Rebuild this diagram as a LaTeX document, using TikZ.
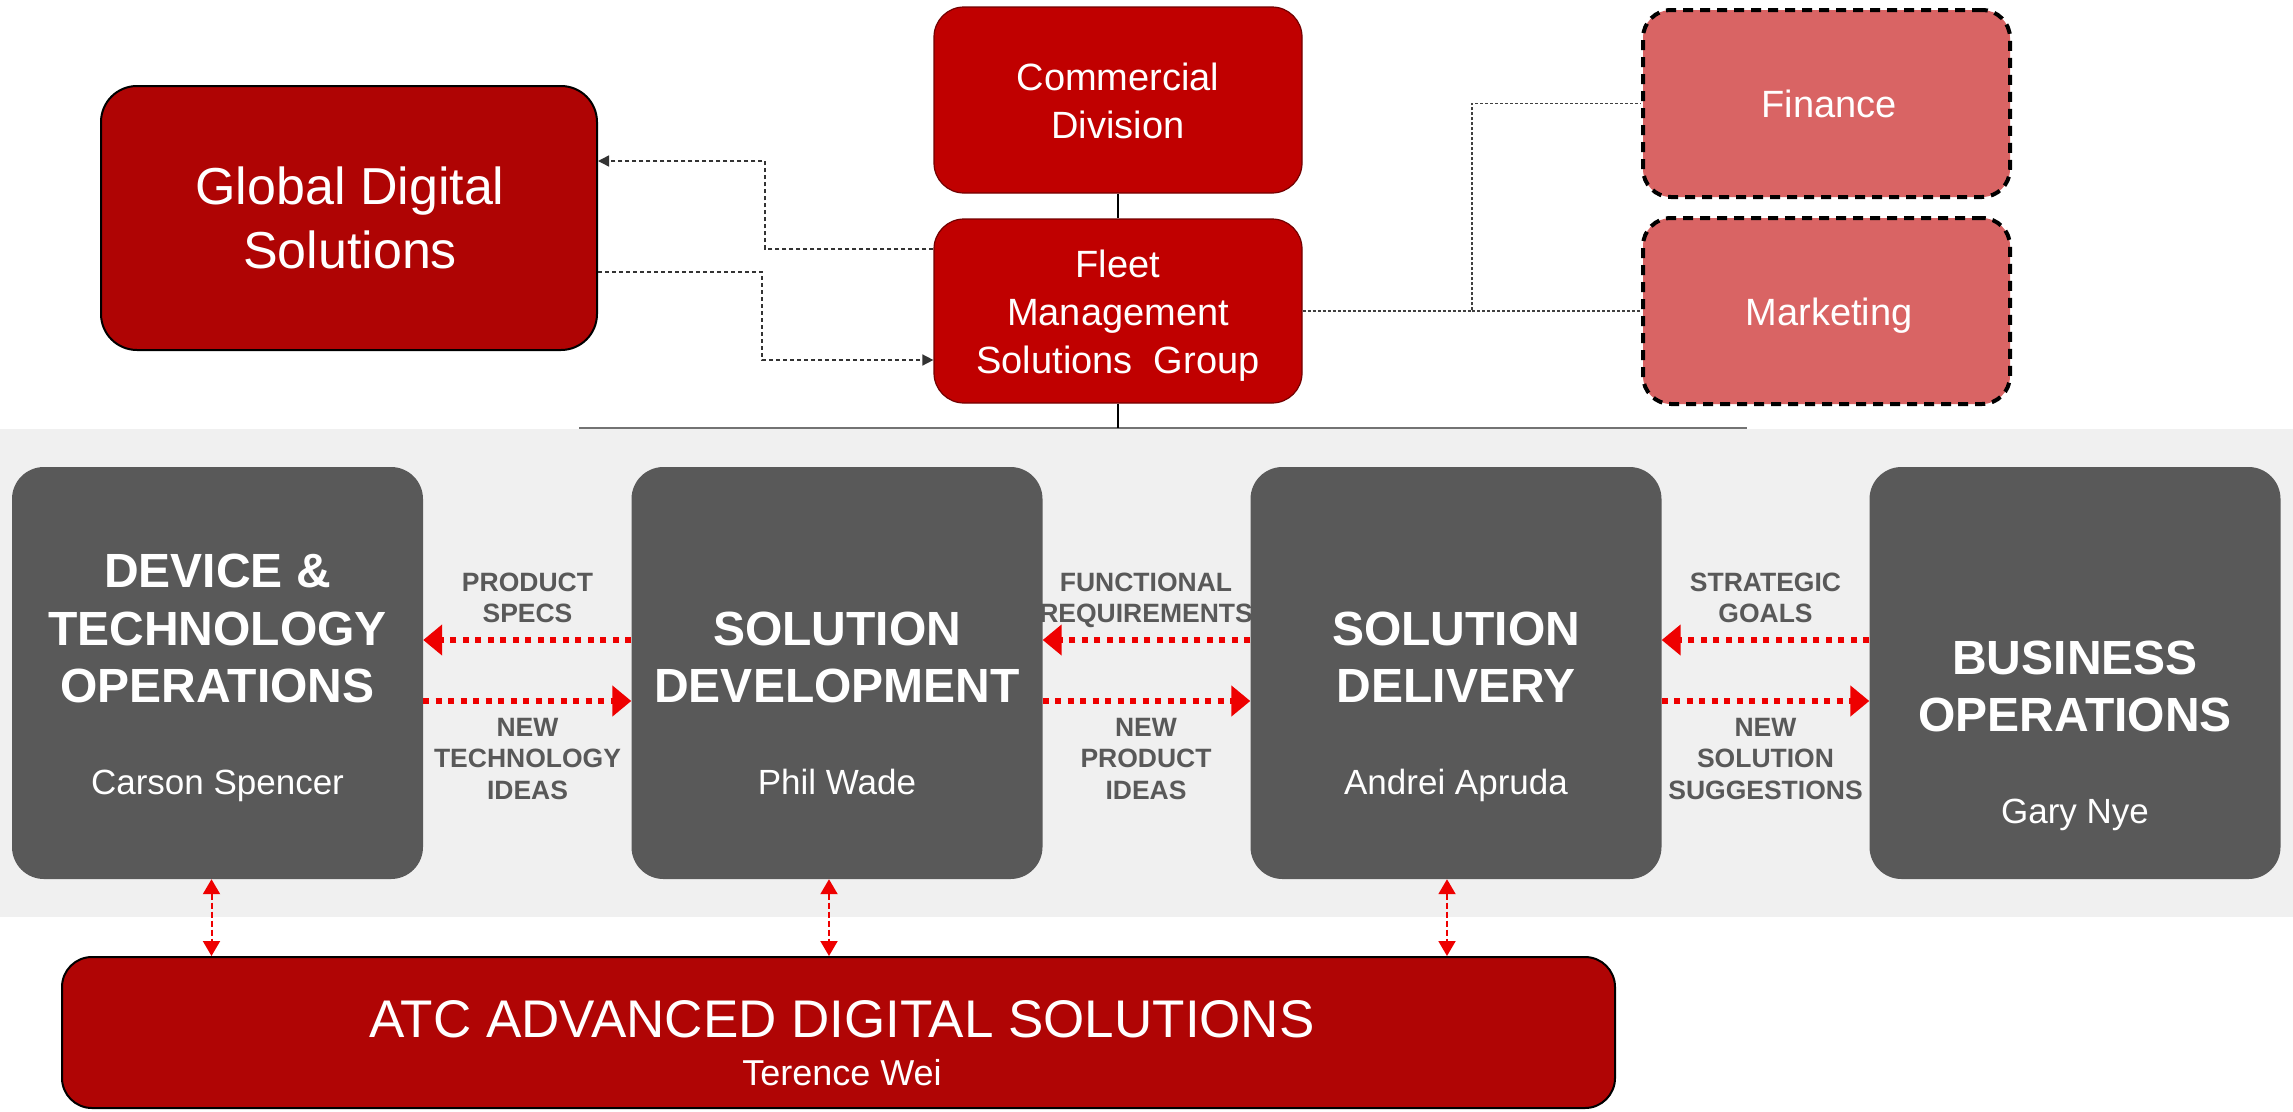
\documentclass[tikz,border=0pt]{standalone}
\usepackage{fontspec}
\setmainfont{Liberation Sans}
\usetikzlibrary{arrows.meta}
\definecolor{darkbox}{HTML}{595959}
\definecolor{redA}{HTML}{C00000}
\definecolor{redB}{HTML}{AF0404}
\definecolor{redC}{HTML}{B00505}
\definecolor{pinkbox}{HTML}{D96464}
\definecolor{bandgray}{HTML}{F0F0F0}
\definecolor{arrowred}{HTML}{EE0000}
\definecolor{labelgray}{HTML}{595959}
\newcommand{\fsz}[1]{\fontsize{#1}{#1}\selectfont}
\tikzset{
  redbox/.style={rectangle, rounded corners=30pt, fill=redA, draw=red!45!black, line width=1.2pt, inner sep=0pt},
  pinkstyle/.style={rectangle, rounded corners=28pt, fill=pinkbox, draw=black, line width=4pt, dash pattern=on 10pt off 7pt, inner sep=0pt, minimum width=367pt, minimum height=187pt},
  darkstyle/.style={rectangle, rounded corners=32pt, fill=darkbox, inner sep=0pt, minimum width=411pt, minimum height=412pt},
  txt/.style={anchor=base, inner sep=0pt, text=white},
  titletxt/.style={txt, font=\bfseries\fsz{48}},
  persontxt/.style={txt, font=\fsz{35}},
  toptxt/.style={txt, font=\fsz{38}},
  lbl/.style={anchor=base, inner sep=0pt, text=labelgray, font=\bfseries\fsz{26.5}},
  flow/.style={draw=arrowred, line width=6pt, dash pattern=on 6pt off 6.5pt, -{Triangle[length=19pt,width=30pt]}},
  vlink/.style={draw=arrowred, line width=2pt, dash pattern=on 6pt off 3pt, {Triangle[length=15pt,width=17pt]}-{Triangle[length=15pt,width=17pt]}},
  dlink/.style={draw=black!80, line width=1.5pt, dash pattern=on 4pt off 3pt},
  flink/.style={draw=black!75, line width=1.5pt, dash pattern=on 3pt off 2pt},
}
\begin{document}
\begin{tikzpicture}[x=1pt,y=-1pt]
\useasboundingbox (0,0) rectangle (2293,1111);
\fill[white] (0,0) rectangle (2293,1111);
% band
\fill[bandgray] (0,429) rectangle (2293,917);
\coordinate (hl) at (0,428);
\draw[black!55, line width=2pt] (579,428) -- (1747,428);

% top boxes
\node[redbox, fill=redB, draw=black, line width=2pt, rounded corners=36pt, minimum width=496pt, minimum height=264pt] (global) at (349,218) {};
\node[redbox, minimum width=368pt, minimum height=186pt] (comm) at (1118,100) {};
\node[redbox, minimum width=368pt, minimum height=184pt] (fleet) at (1118,311) {};
\node[pinkstyle] (fin) at (1826.5,103.5) {};
\node[pinkstyle, minimum height=186pt] (mkt) at (1826.5,311) {};

\node[txt, font=\fsz{52}] (g1) at (350,204) {Global Digital};
\node[txt, font=\fsz{52}] (g2) at (350,268) {Solutions};
\node[toptxt] (c1) at (1118,90) {Commercial};
\node[toptxt] (c2) at (1118,138) {Division};
\node[toptxt] (f1) at (1118,277) {Fleet};
\node[toptxt] (f2) at (1118,325) {Management};
\node[toptxt] (f3) at (1118,373) {Solutions\ \ Group};
\node[toptxt] (fi) at (1829,117) {Finance};
\node[toptxt] (mk) at (1829,325) {Marketing};

% top connectors
\draw[black, line width=1.5pt] (comm.south) -- (fleet.north);
\draw[black, line width=1.5pt] (fleet.south) -- (fleet.south |- hl);
\coordinate (ya) at (0,249);
\coordinate (yb) at (0,161);
\coordinate (yc) at (0,272);
\coordinate (yd) at (0,360);
\coordinate (xa) at (765,0);
\coordinate (xb) at (762,0);
\draw[dlink, -{Triangle[length=11pt,width=11pt]}] (fleet.west |- ya) -- (xa |- ya) -- (xa |- yb) -- (global.east |- yb);
\draw[dlink, -{Triangle[length=11pt,width=11pt]}] (global.east |- yc) -- (xb |- yc) -- (xb |- yd) -- (fleet.west |- yd);
\coordinate (xf) at (1472,0);
\draw[flink] (fleet.east) -- (xf |- fleet.east) -- (xf |- fin.west) -- (fin.west);
\draw[flink] (xf |- fleet.east) -- (mkt.west |- fleet.east);

% dark boxes
\node[darkstyle] (d1) at (217.5,673) {};
\node[darkstyle] (d2) at (837,673) {};
\node[darkstyle] (d3) at (1456,673) {};
\node[darkstyle] (d4) at (2075,673) {};

\node[titletxt] (t11) at (217.5,587) {DEVICE \&};
\node[titletxt] (t12) at (217.5,645) {TECHNOLOGY};
\node[titletxt] (t13) at (217.5,702) {OPERATIONS};
\node[persontxt] (p1) at (217.5,794) {Carson Spencer};
\node[titletxt] (t21) at (837,645) {SOLUTION};
\node[titletxt] (t22) at (837,702) {DEVELOPMENT};
\node[persontxt] (p2) at (837,794) {Phil Wade};
\node[titletxt] (t31) at (1456,645) {SOLUTION};
\node[titletxt] (t32) at (1456,702) {DELIVERY};
\node[persontxt] (p3) at (1456,794) {Andrei Apruda};
\node[titletxt] (t41) at (2075,674) {BUSINESS};
\node[titletxt] (t42) at (2075,731) {OPERATIONS};
\node[persontxt] (p4) at (2075,823) {Gary Nye};

% flows
\draw[flow] ([yshift=33pt]d2.west) -- ([yshift=33pt]d1.east);
\draw[flow] ([yshift=-28pt]d1.east) -- ([yshift=-28pt]d2.west);
\draw[flow] ([yshift=33pt]d3.west) -- ([yshift=33pt]d2.east);
\draw[flow] ([yshift=-28pt]d2.east) -- ([yshift=-28pt]d3.west);
\draw[flow] ([yshift=33pt]d4.west) -- ([yshift=33pt]d3.east);
\draw[flow] ([yshift=-28pt]d3.east) -- ([yshift=-28pt]d4.west);

\node[lbl] (l11) at (527.5,591.5) {PRODUCT};
\node[lbl] (l12) at (527.5,622.5) {SPECS};
\node[lbl] (l13) at (527.5,736) {NEW};
\node[lbl] (l14) at (527.5,767.5) {TECHNOLOGY};
\node[lbl] (l15) at (527.5,799) {IDEAS};
\node[lbl] (l21) at (1146,591.5) {FUNCTIONAL};
\node[lbl] (l22) at (1146,622.5) {REQUIREMENTS};
\node[lbl] (l23) at (1146,736) {NEW};
\node[lbl] (l24) at (1146,767.5) {PRODUCT};
\node[lbl] (l25) at (1146,799) {IDEAS};
\node[lbl] (l31) at (1765.5,591.5) {STRATEGIC};
\node[lbl] (l32) at (1765.5,622.5) {GOALS};
\node[lbl] (l33) at (1765.5,736) {NEW};
\node[lbl] (l34) at (1765.5,767.5) {SOLUTION};
\node[lbl] (l35) at (1765.5,799) {SUGGESTIONS};

% ATC
\node[redbox, fill=redC, draw=black, line width=2pt, minimum width=1553pt, minimum height=151pt] (atc) at (838.5,1032.5) {};
\node[txt, font=\fsz{53}] (a1) at (842,1037) {ATC ADVANCED DIGITAL SOLUTIONS};
\node[txt, font=\fsz{36}] (a2) at (842,1085) {Terence Wei};

\draw[vlink] ([xshift=-6pt]d1.south) -- ([xshift=-6pt]d1.south |- atc.north);
\draw[vlink] ([xshift=-8pt]d2.south) -- ([xshift=-8pt]d2.south |- atc.north);
\draw[vlink] ([xshift=-9pt]d3.south) -- ([xshift=-9pt]d3.south |- atc.north);
\end{tikzpicture}
\end{document}
